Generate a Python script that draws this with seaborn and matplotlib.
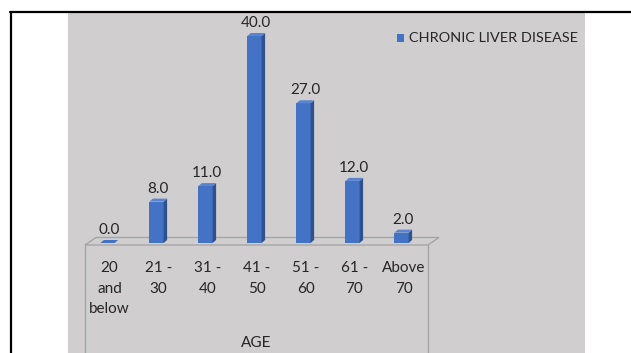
import matplotlib
matplotlib.use("Agg")
import matplotlib.pyplot as plt
from matplotlib.patches import Polygon, Rectangle
from matplotlib.lines import Line2D
import seaborn as sns
import pandas as pd

# Data
age_groups = ["20\nand\nbelow", "21 -\n30", "31 -\n40", "41 -\n50", "51 -\n60", "61 -\n70", "Above\n70"]
cases = [0.0, 8.0, 11.0, 40.0, 27.0, 12.0, 2.0]
series_name = "CHRONIC LIVER DISEASE"
x_title = "AGE"

sns.set_theme(style="white")
plt.rcParams["font.family"] = ["Lato", "DejaVu Sans"]

W, H = 631, 353
fig = plt.figure(figsize=(W / 100, H / 100), dpi=100)
fig.patch.set_facecolor("white")

def fx(px):
    return px / W

def fy(py):
    return 1 - py / H

BG = "#D0CECE"
FRONT = "#4472C4"
SIDE = "#2F528F"
TOP = "#5B84D0"
EDGE = "#A6A6A6"
TXT = "#262626"

# Chart area background and page frame
fig.add_artist(Rectangle((fx(68), 0), fx(585) - fx(68), fy(12.5), transform=fig.transFigure,
                         facecolor=BG, edgecolor="none", zorder=0))
fig.add_artist(Line2D([fx(10), 1], [fy(11.5), fy(11.5)], transform=fig.transFigure,
                      color="black", lw=1.6, zorder=1))
fig.add_artist(Line2D([fx(11), fx(11)], [fy(11.5), 0], transform=fig.transFigure,
                      color="black", lw=1.6, zorder=1))

# Plot axes: x from floor front-left to front-right, y baseline at the floor
base_py = 243
px_per_unit = 5.175
ymax = 45
ax = fig.add_axes([fx(85), fy(base_py), fx(428) - fx(85), ymax * px_per_unit / H])
ax.set_facecolor("none")

df = pd.DataFrame({"age": age_groups, "cases": cases})
bar_w = 0.29
sns.barplot(data=df, x="age", y="cases", color=FRONT, saturation=1, width=bar_w,
            edgecolor="none", ax=ax, zorder=3)
ax.set_xlim(-0.5, len(age_groups) - 0.5)
ax.set_ylim(0, ymax)
for s in ax.spines.values():
    s.set_visible(False)
ax.set_yticks([])
ax.set_ylabel("")

# Depth offsets for the 3D look (data units)
unit_x = (428 - 85) / len(age_groups)
ddx = 3.5 / unit_x
ddy = 3.0 / px_per_unit
shift = -2.0 / unit_x

# Floor parallelogram
fdx = 11 / unit_x
fdy = 7.5 / px_per_unit
floor_y = -2 / px_per_unit
x0, x1 = -0.5, len(age_groups) - 0.5
floor = Polygon([(x0, floor_y), (x1, floor_y), (x1 + fdx, floor_y + fdy), (x0 + fdx, floor_y + fdy)],
                closed=True, facecolor=BG, edgecolor=EDGE, lw=1.0, zorder=1, clip_on=False)
ax.add_patch(floor)
# Category box sides below the floor
for xv in (x0, x1):
    ax.plot([xv, xv], [floor_y, -110 / px_per_unit], color=EDGE, lw=1.0, clip_on=False, zorder=1)

for bar, val in zip(ax.patches, cases):
    bar.set_x(bar.get_x() + shift)
    bx0 = bar.get_x()
    bx1 = bx0 + bar.get_width()
    h = bar.get_height()
    side = Polygon([(bx1, 0), (bx1 + ddx, ddy), (bx1 + ddx, h + ddy), (bx1, h)], closed=True,
                   facecolor=SIDE, edgecolor="none", zorder=3, clip_on=False)
    top = Polygon([(bx0, h), (bx1, h), (bx1 + ddx, h + ddy), (bx0 + ddx, h + ddy)], closed=True,
                  facecolor=TOP if h > 0 else FRONT, edgecolor="none", zorder=3, clip_on=False)
    ax.add_patch(side)
    ax.add_patch(top)
    ax.annotate(f"{val:.1f}", (bx0 + bar.get_width() / 2 + ddx / 2, h + ddy), xytext=(0, 6),
                textcoords="offset pixels", ha="center", va="baseline", fontsize=11, color=TXT)

ax.tick_params(axis="x", length=0, pad=13, labelsize=11, labelcolor=TXT)
for lbl in ax.get_xticklabels():
    lbl.set_linespacing(1.6)
ax.set_xlabel(x_title, fontsize=11, color=TXT, labelpad=0)
ax.xaxis.set_label_coords(0.5, -(343 - base_py) / (ymax * px_per_unit))
ax.xaxis.label.set_va("center")

# Legend
fig.add_artist(Rectangle((fx(397), fy(41.5)), fx(7), 7 / H, transform=fig.transFigure,
                         facecolor=FRONT, edgecolor="none"))
fig.text(fx(409), fy(38), series_name, fontsize=10.4, color=TXT, ha="left", va="center")

fig.savefig("out.png", dpi=100)
